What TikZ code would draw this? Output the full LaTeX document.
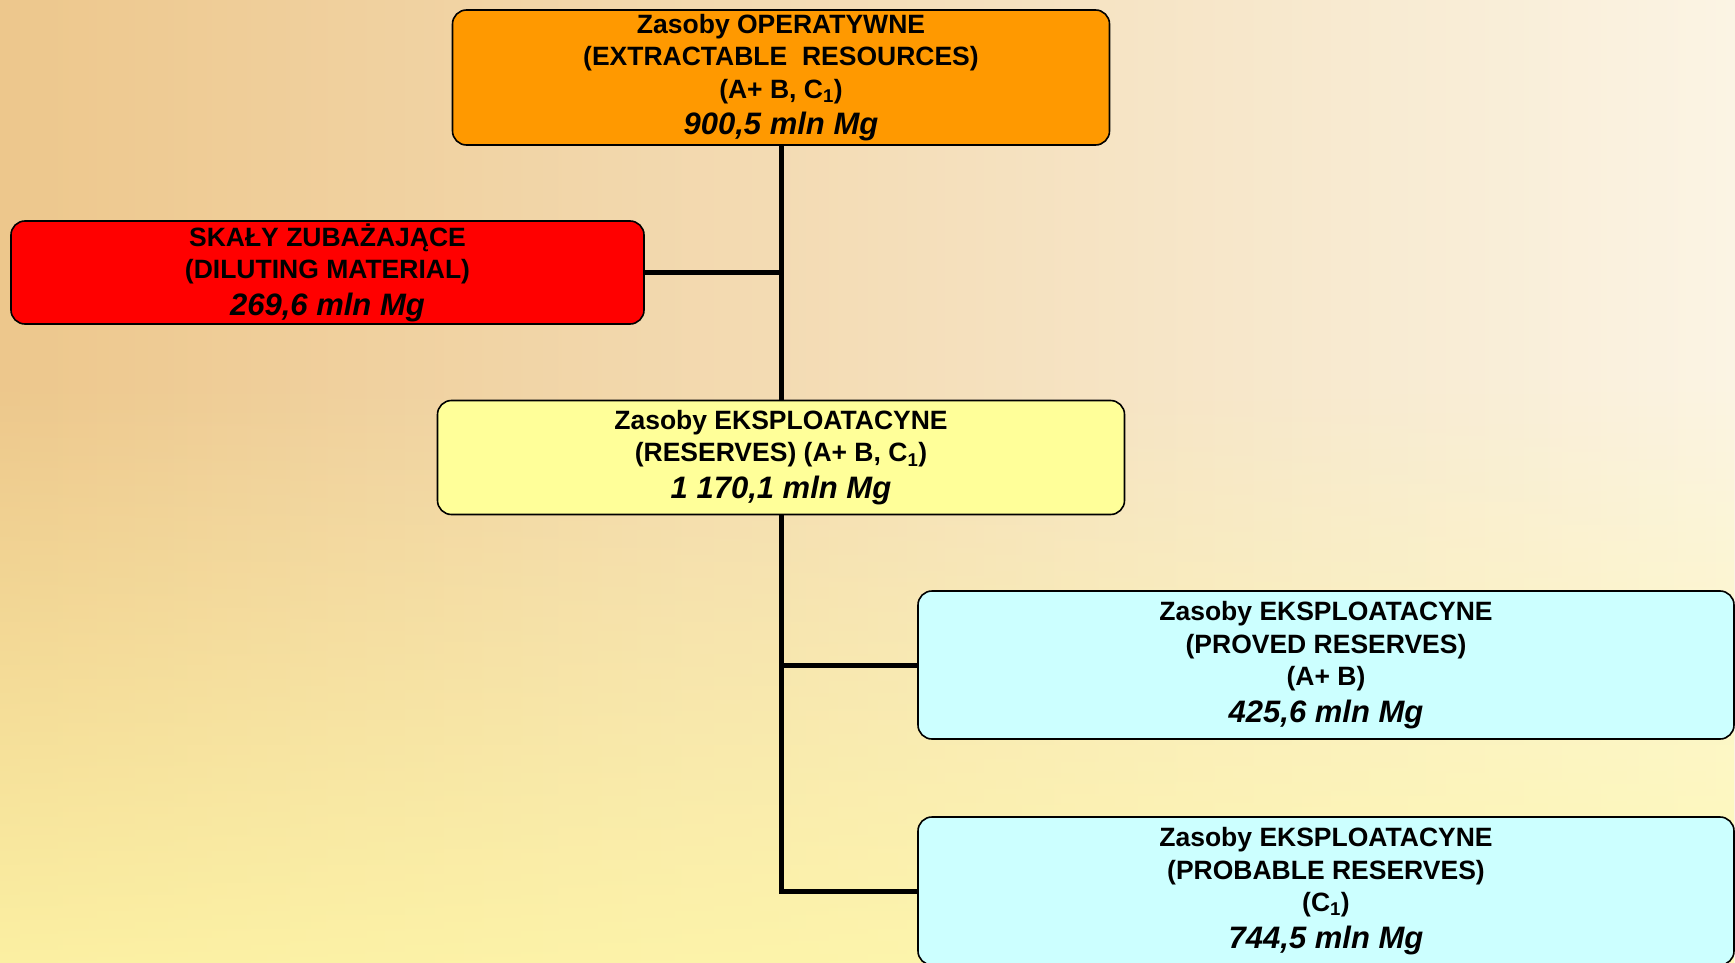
\documentclass[tikz,border=0pt]{standalone}
\usepackage{fontspec}
\setmainfont{Liberation Sans}
\usetikzlibrary{fadings}

\definecolor{bglinks}{HTML}{EDC78C}
\definecolor{bgrechts}{HTML}{FBF4E4}
\definecolor{bggelb}{HTML}{FFFAA8}
\definecolor{kastenorange}{HTML}{FF9900}
\definecolor{kastenrot}{HTML}{FF0000}
\definecolor{kastengelb}{HTML}{FFFF99}
\definecolor{kastencyan}{HTML}{CCFFFF}

\newcommand{\kastenschrift}{\bfseries\fontsize{26.5}{32.5}\selectfont}
\newcommand{\menge}[1]{{\fontsize{31}{34}\selectfont\itshape #1}}

\tikzset{
	kasten/.style={draw=black, line width=1.6pt, rounded corners=14pt, inner sep=0pt,
		align=center, font=\kastenschrift},
	linie/.style={line width=5pt, black}
}

\begin{document}
\begin{tikzpicture}[x=1pt,y=-1pt]
		% zeichne Hintergrund
		\useasboundingbox (0,0) rectangle (1735,963);
		\shade[left color=bglinks, right color=bgrechts] (0,0) rectangle (1735,963);
		\fill[bggelb, fill opacity=0.8, path fading=north] (0,380) rectangle (1735,963);
		
		% zeichne Kaesten
		\node[kasten, fill=kastenorange, minimum width=657pt, minimum height=135pt] (oper) at (781,77.5)
			{Zasoby OPERATYWNE\\(EXTRACTABLE\ \ RESOURCES)\\(A+ B, C\textsubscript{1})\\[4pt]\menge{900,5 mln Mg}};
		\node[kasten, fill=kastenrot, minimum width=633pt, minimum height=103pt] (skaly) at (327.5,272.5)
			{SKAŁY ZUBAŻAJĄCE\\(DILUTING MATERIAL)\\[4pt]\menge{269,6 mln Mg}};
		\node[kasten, fill=kastengelb, minimum width=687pt, minimum height=114pt] (eksp) at (781,457.5)
			{Zasoby EKSPLOATACYNE\\(RESERVES) (A+ B, C\textsubscript{1})\\[4pt]\menge{1 170,1 mln Mg}};
		\node[kasten, fill=kastencyan, minimum width=816pt, minimum height=148pt] (proved) at (1326,665)
			{Zasoby EKSPLOATACYNE\\(PROVED RESERVES)\\(A+ B)\\[4pt]\menge{425,6 mln Mg}};
		\node[kasten, fill=kastencyan, minimum width=816pt, minimum height=148pt] (probable) at (1326,891)
			{Zasoby EKSPLOATACYNE\\(PROBABLE RESERVES)\\(C\textsubscript{1})\\[4pt]\menge{744,5 mln Mg}};
		
		% zeichne Verbindungen
		\draw[linie] (oper.south) -- (eksp.north);
		\draw[linie] (skaly.east) -- (skaly.east -| oper.south);
		\draw[linie] (eksp.south) |- (proved.west);
		\draw[linie] (eksp.south) |- (probable.west);
	\end{tikzpicture}
\end{document}
